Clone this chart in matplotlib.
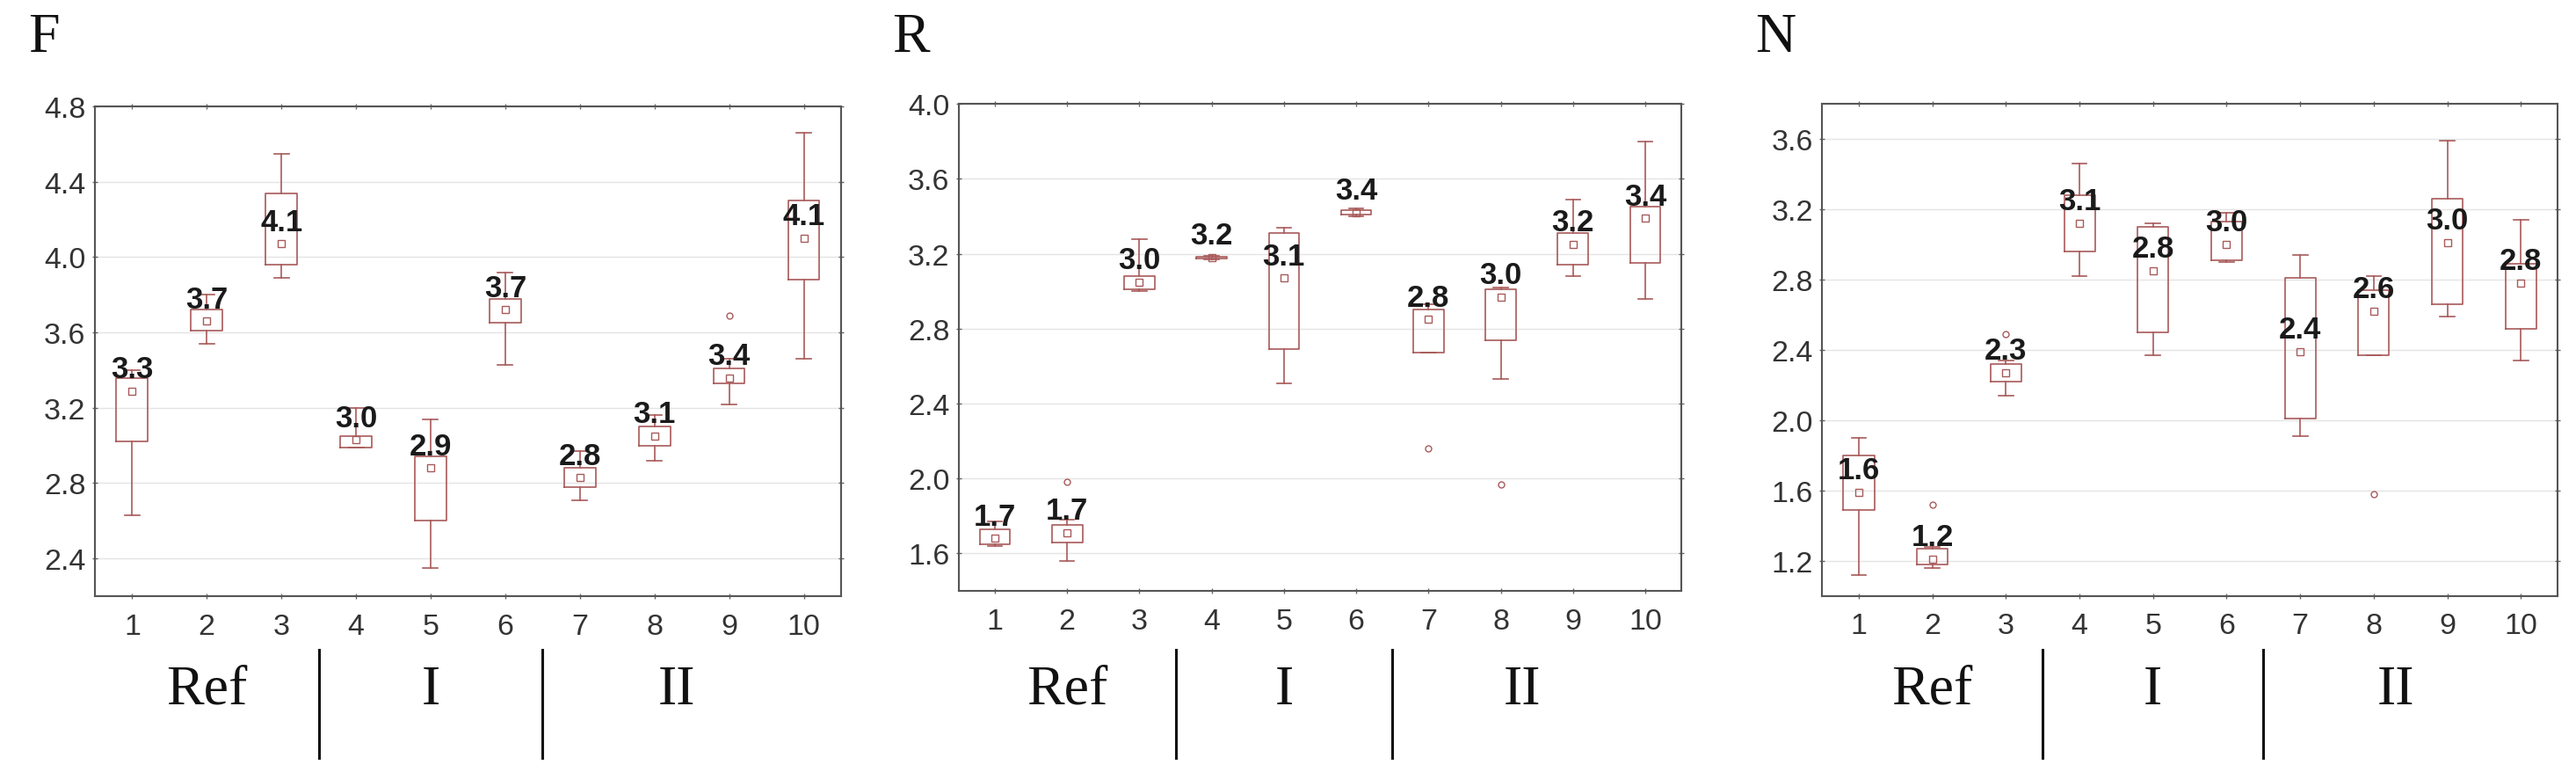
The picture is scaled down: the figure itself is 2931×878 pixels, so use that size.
import matplotlib
matplotlib.use("Agg")
import matplotlib.pyplot as plt
from matplotlib.transforms import blended_transform_factory

plt.rcParams['font.family'] = ['Liberation Sans', 'DejaVu Sans']

positions = list(range(1, 11))

# F panel
f_lo = [2.63, 3.54, 3.89, 2.99, 2.35, 3.43, 2.71, 2.92, 3.22, 3.46]
f_q1 = [3.02, 3.61, 3.96, 2.99, 2.60, 3.65, 2.78, 3.00, 3.33, 3.88]
f_q3 = [3.36, 3.72, 4.34, 3.05, 2.94, 3.78, 2.88, 3.10, 3.41, 4.30]
f_hi = [3.40, 3.80, 4.55, 3.20, 3.14, 3.92, 2.97, 3.16, 3.46, 4.66]
f_mean = [3.29, 3.66, 4.07, 3.03, 2.88, 3.72, 2.83, 3.05, 3.36, 4.10]
f_fliers = [[], [], [], [], [], [], [], [], [3.69], []]
f_labels = ["3.3", "3.7", "4.1", "3.0", "2.9", "3.7", "2.8", "3.1", "3.4", "4.1"]

# R panel
r_lo = [1.64, 1.56, 3.00, 3.17, 2.51, 3.40, 2.67, 2.53, 3.08, 2.96]
r_q1 = [1.65, 1.66, 3.01, 3.175, 2.69, 3.41, 2.67, 2.74, 3.14, 3.15]
r_q3 = [1.73, 1.75, 3.08, 3.185, 3.31, 3.435, 2.90, 3.01, 3.31, 3.45]
r_hi = [1.77, 1.78, 3.28, 3.19, 3.34, 3.44, 2.93, 3.02, 3.49, 3.80]
r_mean = [1.68, 1.71, 3.05, 3.18, 3.07, 3.42, 2.85, 2.97, 3.25, 3.39]
r_fliers = [[], [1.98], [], [], [], [], [2.16], [1.97], [], []]
r_labels = ["1.7", "1.7", "3.0", "3.2", "3.1", "3.4", "2.8", "3.0", "3.2", "3.4"]

# N panel
n_lo = [1.12, 1.16, 2.14, 2.82, 2.37, 2.90, 1.91, 2.37, 2.59, 2.34]
n_q1 = [1.49, 1.18, 2.22, 2.96, 2.50, 2.91, 2.01, 2.37, 2.66, 2.52]
n_q3 = [1.80, 1.27, 2.32, 3.28, 3.10, 3.13, 2.81, 2.74, 3.26, 2.89]
n_hi = [1.90, 1.28, 2.34, 3.46, 3.12, 3.18, 2.94, 2.82, 3.59, 3.14]
n_mean = [1.59, 1.21, 2.27, 3.12, 2.85, 3.00, 2.39, 2.62, 3.01, 2.78]
n_fliers = [[], [1.52], [2.49], [], [], [], [], [1.58], [], []]
n_labels = ["1.6", "1.2", "2.3", "3.1", "2.8", "3.0", "2.4", "2.6", "3.0", "2.8"]

groups = ["Ref", "I", "II"]
group_x = [2, 5, 8.3]
separators = [3.5, 6.5]

box_color = '#a85a5a'
serif = ['Liberation Serif', 'DejaVu Serif']

fig = plt.figure(figsize=(29.31, 8.79), dpi=100)

panels = [
    ("F", [0.0368, 0.2275, 0.2897, 0.6337], (2.2, 4.8), [2.4, 2.8, 3.2, 3.6, 4.0, 4.4, 4.8],
     f_lo, f_q1, f_q3, f_hi, f_mean, f_fliers, f_labels),
    ("R", [0.3722, 0.2344, 0.2805, 0.6300], (1.4, 4.0), [1.6, 2.0, 2.4, 2.8, 3.2, 3.6, 4.0],
     r_lo, r_q1, r_q3, r_hi, r_mean, r_fliers, r_labels),
    ("N", [0.7073, 0.2280, 0.2856, 0.6370], (1.0, 3.8), [1.2, 1.6, 2.0, 2.4, 2.8, 3.2, 3.6],
     n_lo, n_q1, n_q3, n_hi, n_mean, n_fliers, n_labels),
]

for name, rect, ylim, yticks, lo, q1, q3, hi, mean, fliers, labels in panels:
    ax = fig.add_axes(rect)
    stats = []
    for i in range(10):
        stats.append(dict(med=mean[i], q1=q1[i], q3=q3[i], whislo=lo[i],
                          whishi=hi[i], fliers=fliers[i], mean=mean[i]))
    ax.bxp(stats, positions=positions, widths=0.42, capwidths=0.2,
           showmeans=True, meanline=False, patch_artist=False,
           boxprops=dict(color=box_color, linewidth=1.2),
           whiskerprops=dict(color=box_color, linewidth=1.2),
           capprops=dict(color=box_color, linewidth=1.2),
           medianprops=dict(linewidth=0),
           meanprops=dict(marker='s', markerfacecolor='none', markeredgecolor=box_color,
                          markersize=6, markeredgewidth=1.0),
           flierprops=dict(marker='o', markerfacecolor='none', markeredgecolor=box_color,
                           markersize=5, markeredgewidth=1.0))
    # mean values written above each box
    for x, m, lab in zip(positions, mean, labels):
        ax.annotate(lab, (x, m), xytext=(0, 18), textcoords='offset points',
                    ha='center', va='center', fontsize=25, fontweight='bold', color='#1a1a1a')

    ax.set_xlim(0.5, 10.5)
    ax.set_ylim(*ylim)
    ax.set_xticks(positions)
    ax.set_xticklabels([str(p) for p in positions])
    ax.set_yticks(yticks)
    ax.set_yticklabels([f"{t:.1f}" for t in yticks])
    ax.grid(axis='y', color='#e4e4e4', linewidth=1.0)
    ax.set_axisbelow(True)
    ax.tick_params(top=True, right=True, labeltop=False, labelright=False,
                   direction='inout', length=5, width=1, color='#666666',
                   labelsize=24.5, labelcolor='#333333')
    ax.tick_params(axis='x', pad=11)
    ax.tick_params(axis='y', pad=5)
    for sp in ax.spines.values():
        sp.set_color('#555555')
        sp.set_linewidth(1.5)

    fig.text(rect[0] - 0.026, 0.95, name, fontsize=46, family=serif,
             ha='left', va='center', color='#111111')

    # group labels and separators under the axis
    tr = blended_transform_factory(ax.transData, fig.transFigure)
    for sx in separators:
        ax.plot([sx, sx], [0.018, 0.158], color='#111111', linewidth=2.2,
                transform=tr, clip_on=False)
    for gx, g in zip(group_x, groups):
        ax.text(gx, 0.106, g, transform=tr, ha='center', va='center', fontsize=46,
                family=serif, color='#111111')

fig.savefig("out.png", dpi=100)
